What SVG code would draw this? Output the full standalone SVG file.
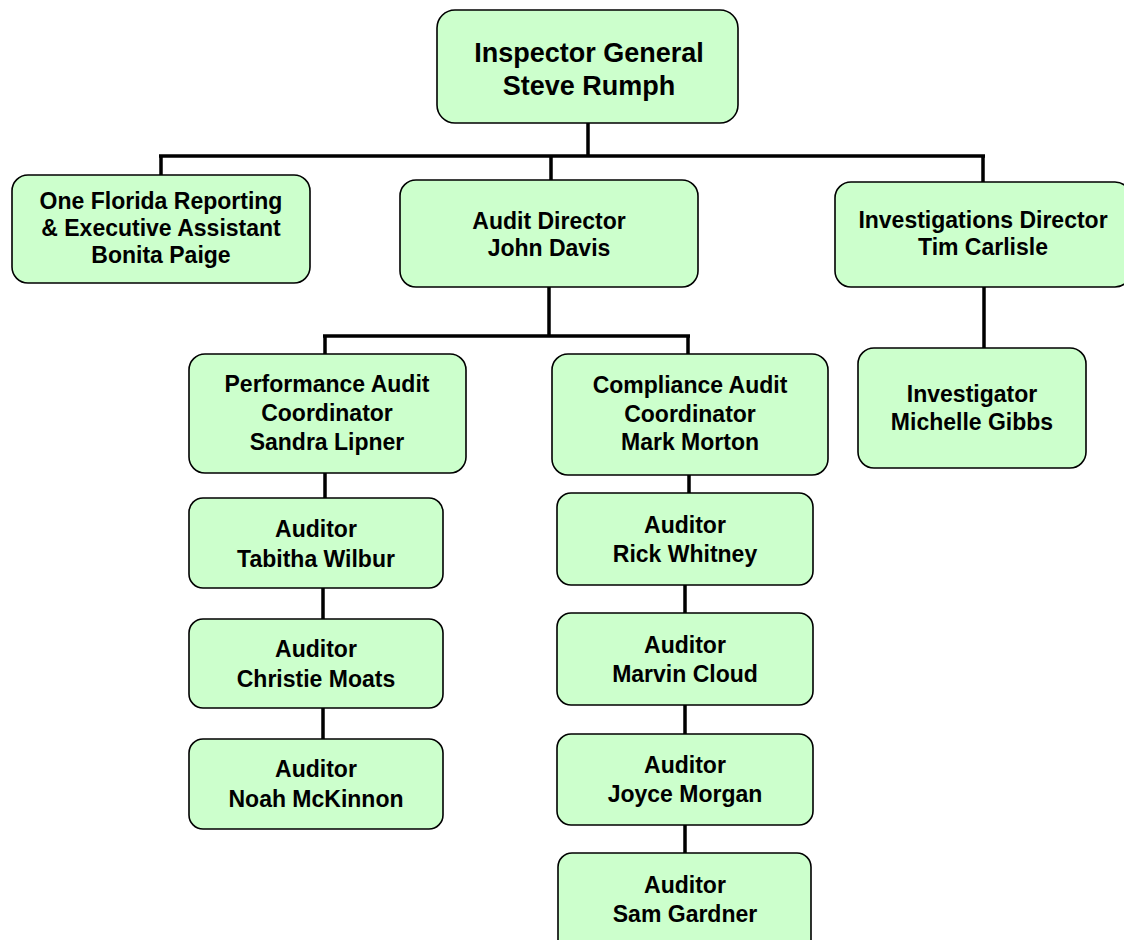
<svg xmlns="http://www.w3.org/2000/svg" width="1124" height="940" viewBox="0 0 1124 940">
<style>
.box{fill:#ccffcc;stroke:#000;stroke-width:1.6}
.t{font-family:"Liberation Sans",Arial,sans-serif;font-weight:bold;font-size:23px;fill:#000;text-anchor:middle}
.big{font-size:27px}
.c{stroke:#000;stroke-width:3.5;fill:none}
</style>
<rect width="1124" height="940" fill="#fff"/>
<g id="connectors">
<path class="c" d="M588 123V156M159 156H985M161 156V175M551 156V180M983 156V182"/>
<path class="c" d="M549 287V336M323 336H690M325 336V354M688 336V354"/>
<path class="c" d="M325 473V498M323 588V619M323 708V739"/>
<path class="c" d="M689 475V493M685 585V613M685 705V734M685 825V853"/>
<path class="c" d="M984 287V348"/>
</g>
<g id="n-ig"><rect class="box" x="437" y="10" width="301" height="113" rx="18"/>
<text class="t big" x="589" y="62">Inspector General</text><text class="t big" x="589" y="95">Steve Rumph</text></g>
<g id="n-bonita"><rect class="box" x="12" y="175" width="298" height="108" rx="16"/>
<text class="t" x="161" y="209">One Florida Reporting</text><text class="t" x="161" y="236">&amp; Executive Assistant</text><text class="t" x="161" y="263">Bonita Paige</text></g>
<g id="n-audit"><rect class="box" x="400" y="180" width="298" height="107" rx="16"/>
<text class="t" x="549" y="229">Audit Director</text><text class="t" x="549" y="256">John Davis</text></g>
<g id="n-inv"><rect class="box" x="835" y="182" width="296" height="105" rx="16"/>
<text class="t" x="983" y="228">Investigations Director</text><text class="t" x="983" y="255">Tim Carlisle</text></g>
<g id="n-perf"><rect class="box" x="189" y="354" width="277" height="119" rx="16"/>
<text class="t" x="327" y="392">Performance Audit</text><text class="t" x="327" y="421">Coordinator</text><text class="t" x="327" y="450">Sandra Lipner</text></g>
<g id="n-comp"><rect class="box" x="552" y="354" width="276" height="121" rx="16"/>
<text class="t" x="690" y="393">Compliance Audit</text><text class="t" x="690" y="422">Coordinator</text><text class="t" x="690" y="450">Mark Morton</text></g>
<g id="n-michelle"><rect class="box" x="858" y="348" width="228" height="120" rx="16"/>
<text class="t" x="972" y="402">Investigator</text><text class="t" x="972" y="430">Michelle Gibbs</text></g>
<g id="n-tabitha"><rect class="box" x="189" y="498" width="254" height="90" rx="14"/>
<text class="t" x="316" y="537">Auditor</text><text class="t" x="316" y="567">Tabitha Wilbur</text></g>
<g id="n-christie"><rect class="box" x="189" y="619" width="254" height="89" rx="14"/>
<text class="t" x="316" y="657">Auditor</text><text class="t" x="316" y="687">Christie Moats</text></g>
<g id="n-noah"><rect class="box" x="189" y="739" width="254" height="90" rx="14"/>
<text class="t" x="316" y="777">Auditor</text><text class="t" x="316" y="807">Noah McKinnon</text></g>
<g id="n-rick"><rect class="box" x="557" y="493" width="256" height="92" rx="14"/>
<text class="t" x="685" y="533">Auditor</text><text class="t" x="685" y="562">Rick Whitney</text></g>
<g id="n-marvin"><rect class="box" x="557" y="613" width="256" height="92" rx="14"/>
<text class="t" x="685" y="653">Auditor</text><text class="t" x="685" y="682">Marvin Cloud</text></g>
<g id="n-joyce"><rect class="box" x="557" y="734" width="256" height="91" rx="14"/>
<text class="t" x="685" y="773">Auditor</text><text class="t" x="685" y="802">Joyce Morgan</text></g>
<g id="n-sam"><rect class="box" x="558" y="853" width="253" height="110" rx="14"/>
<text class="t" x="685" y="893">Auditor</text><text class="t" x="685" y="922">Sam Gardner</text></g>
</svg>
